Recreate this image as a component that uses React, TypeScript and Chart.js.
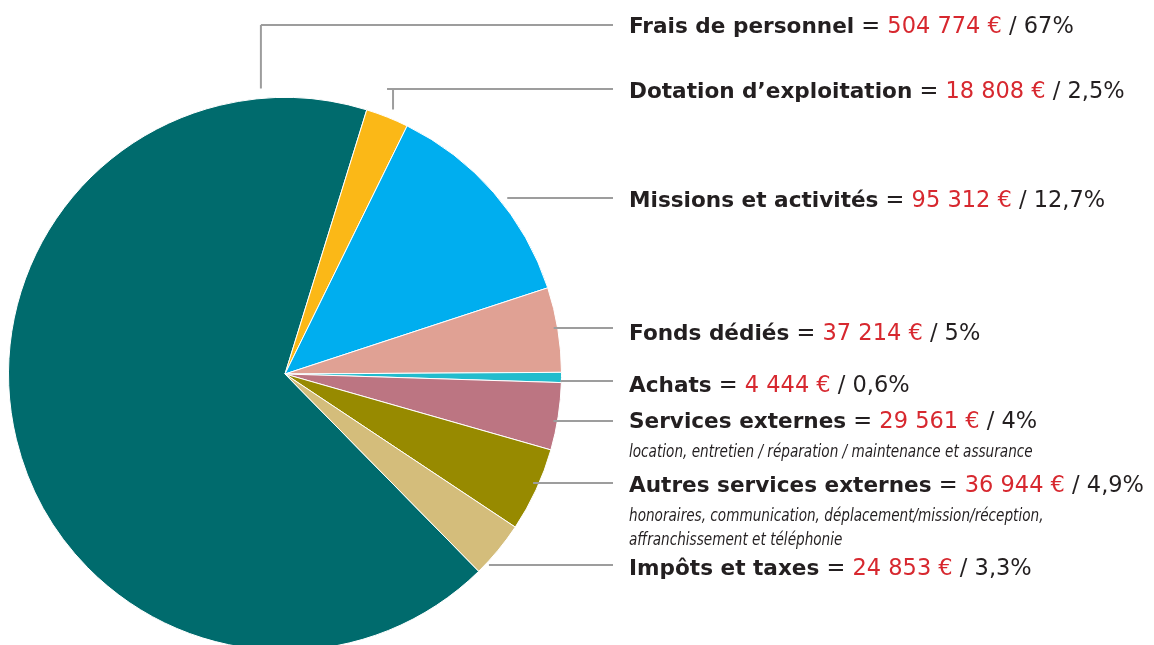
import React, { useEffect, useRef } from 'react';
import { Chart, registerables } from 'chart.js';

Chart.register(...registerables);

const CATEGORIES = [
  'Frais de personnel',
  'Dotation d’exploitation',
  'Missions et activités',
  'Fonds dédiés',
  'Achats',
  'Services externes',
  'Autres services externes',
  'Impôts et taxes',
];
const VALUES = [504774, 18808, 95312, 37214, 4444, 29561, 36944, 24853];
const VALUE_LABELS = ['504 774 €', '18 808 €', '95 312 €', '37 214 €', '4 444 €', '29 561 €', '36 944 €', '24 853 €'];
const PERCENT_LABELS = ['67%', '2,5%', '12,7%', '5%', '0,6%', '4%', '4,9%', '3,3%'];
const DETAILS: string[][] = [
  [],
  [],
  [],
  [],
  [],
  ['location, entretien / réparation / maintenance et assurance'],
  ['honoraires, communication, déplacement/mission/réception,', 'affranchissement et téléphonie'],
  [],
];
const COLORS = ['#006b6d', '#fbb817', '#00aeef', '#e0a194', '#22bccd', '#bc7582', '#978a00', '#d4bd7b'];

// angle (degrees clockwise from top) where the second slice begins
const SECOND_SLICE_START = 17.2;

// label layout (annotation positions)
const LABEL_X = 629;
const LINE_END_X = 613;
type Layout = { baseline: number; lineY: number; kind: 'elbow' | 'h'; angle?: number; overshoot?: number; inset?: number; details?: number[] };
const LAYOUT: Layout[] = [
  { baseline: 33, lineY: 25, kind: 'elbow', angle: -5, overshoot: 0 },
  { baseline: 98, lineY: 89, kind: 'elbow', angle: 23, overshoot: 6 },
  { baseline: 207, lineY: 198, kind: 'h', inset: -9 },
  { baseline: 340, lineY: 328, kind: 'h', inset: 4 },
  { baseline: 392, lineY: 381, kind: 'h', inset: 1 },
  { baseline: 428, lineY: 421, kind: 'h', inset: 4, details: [457] },
  { baseline: 492, lineY: 483, kind: 'h', inset: 6, details: [521, 545] },
  { baseline: 575, lineY: 565, kind: 'h', inset: -4 },
];

const BOLD_FONT = 'bold 21.6px "DejaVu Sans", sans-serif';
const REG_FONT = 'normal 22.5px "DejaVu Sans", sans-serif';
const DETAIL_FONT = 'italic 17px "DejaVu Sans Condensed", "DejaVu Sans", sans-serif';
const DETAIL_SCALE_X = 0.89;
const TEXT_COLOR = '#231f20';
const VALUE_COLOR = '#d7282f';
const LINE_COLOR = '#9d9d9d';

const labelsPlugin = {
  id: 'sideLabels',
  afterDraw(chart: any) {
    const ctx: CanvasRenderingContext2D = chart.ctx;
    const meta = chart.getDatasetMeta(0);
    const arc = meta.data[0];
    if (!arc) return;
    const { x: cx, y: cy, outerRadius: r } = arc.getProps(['x', 'y', 'outerRadius'], true);
    ctx.save();
    ctx.strokeStyle = LINE_COLOR;
    ctx.lineWidth = 2;
    LAYOUT.forEach((l, i) => {
      ctx.beginPath();
      if (l.kind === 'elbow') {
        const a = ((l.angle || 0) * Math.PI) / 180;
        const px = cx + r * Math.sin(a);
        const py = cy - r * Math.cos(a) - 10;
        ctx.moveTo(px, py);
        ctx.lineTo(px, l.lineY);
        ctx.moveTo(px - (l.overshoot || 0), l.lineY);
        ctx.lineTo(LINE_END_X, l.lineY);
      } else {
        const dy = l.lineY - cy;
        const sx = cx + Math.sqrt(Math.max(r * r - dy * dy, 0)) - (l.inset || 0);
        ctx.moveTo(sx, l.lineY);
        ctx.lineTo(LINE_END_X, l.lineY);
      }
      ctx.stroke();

      ctx.textBaseline = 'alphabetic';
      ctx.textAlign = 'left';
      let x = LABEL_X;
      const seg = (text: string, font: string, color: string) => {
        ctx.font = font;
        ctx.fillStyle = color;
        ctx.fillText(text, x, l.baseline);
        x += ctx.measureText(text).width;
      };
      seg(CATEGORIES[i], BOLD_FONT, TEXT_COLOR);
      seg(' = ', REG_FONT, TEXT_COLOR);
      seg(VALUE_LABELS[i], REG_FONT, VALUE_COLOR);
      seg(' / ' + PERCENT_LABELS[i], REG_FONT, TEXT_COLOR);

      (l.details || []).forEach((by, k) => {
        ctx.save();
        ctx.font = DETAIL_FONT;
        ctx.fillStyle = TEXT_COLOR;
        ctx.translate(LABEL_X, by);
        ctx.scale(DETAIL_SCALE_X, 1);
        ctx.fillText(DETAILS[i][k] || '', 0, 0);
        ctx.restore();
      });
    });
    ctx.restore();
  },
};

export default function App() {
  const ref = useRef<HTMLCanvasElement>(null);
  useEffect(() => {
    if (!ref.current) return;
    const total = VALUES.reduce((a, b) => a + b, 0);
    const rotation = SECOND_SLICE_START - (VALUES[0] / total) * 360;
    const chart = new Chart(ref.current, {
      type: 'pie',
      data: {
        labels: CATEGORIES,
        datasets: [
          {
            data: VALUES,
            backgroundColor: COLORS,
            borderColor: '#ffffff',
            borderWidth: 1,
          },
        ],
      },
      options: {
        responsive: false,
        animation: false,
        rotation,
        layout: { padding: { left: 8, top: 97, right: 592, bottom: 9 } },
        plugins: {
          legend: { display: false },
          tooltip: { enabled: false },
        },
      },
      plugins: [labelsPlugin],
    });
    return () => chart.destroy();
  }, []);
  return (
    <div style={{ position: 'absolute', left: 0, top: 0, width: 1154, height: 645, overflow: 'hidden', background: '#fff' }}>
      <canvas ref={ref} width={1154} height={660} style={{ width: 1154, height: 660, display: 'block' }} />
    </div>
  );
}
